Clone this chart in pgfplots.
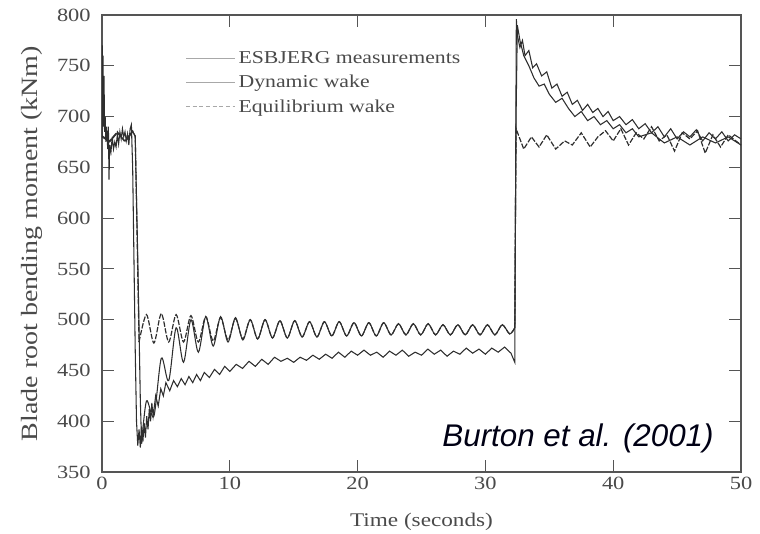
\documentclass[border=0pt]{standalone}
\usepackage{pgfplots}
\pgfplotsset{compat=1.18}
\usepackage{fontspec}
\setmainfont{Liberation Serif}[FakeStretch=1.2]
\newfontfamily\burtonfont{Liberation Sans}
\definecolor{txt}{HTML}{4A4A4A}
\definecolor{ln}{HTML}{2E2E2E}
\definecolor{lg}{HTML}{A8A8A8}
\definecolor{frame}{HTML}{555555}
\begin{document}
\begin{tikzpicture}
\begin{axis}[
  scale only axis, width=479.25pt, height=342.75pt,
  xmin=0, xmax=50, ymin=350, ymax=800,
  xtick={0,10,...,50}, ytick={350,400,...,800},
  tick align=inside, major tick length=9pt,
  axis line style={color=frame, line width=1pt},
  tick style={color=frame, line width=0.9pt},
  ticklabel style={color=txt, font=\fontsize{14}{16}\selectfont},
  yticklabel style={xshift=-5pt},
  /pgf/number format/assume math mode=true,
  xlabel={Time (seconds)}, ylabel={Blade root bending moment (kNm)},
  every axis x label/.style={at={(axis description cs:0.5,-0.11)}, anchor=center, font=\fontsize{14.5}{16}\selectfont, color=txt},
  every axis y label/.style={at={(axis description cs:-0.1095,0.5)}, rotate=90, anchor=center, font=\fontsize{17.5}{19}\selectfont, color=txt},
  legend style={draw=none, fill=none, at={(axis cs:6.2,770)}, anchor=north west, font=\fontsize{13.6}{16}\selectfont, text=txt, row sep=3.5pt},
  legend cell align=left,
  legend image code/.code={\draw[#1] (0pt,0pt) -- (37pt,0pt);},
]
\addlegendimage{color=lg, line width=0.8pt}
\addlegendentry{ESBJERG measurements}
\addlegendimage{color=lg, line width=0.8pt}
\addlegendentry{Dynamic wake}
\addlegendimage{color=lg, line width=0.8pt, dash pattern=on 3pt off 2pt}
\addlegendentry{Equilibrium wake}

% ESBJERG measurements
\addplot[ln, line width=0.8pt, forget plot] coordinates {
(0,680)(0.02,770)(0.05,700)(0.08,760)(0.12,690)(0.16,740)(0.2,685)(0.25,700)(0.3,675)(0.35,690)(0.45,668)(0.5,690)(0.55,638)(0.6,672)(0.7,665)(0.8,680)(0.9,668)(1.0,675)(1.1,670)(1.2,682)(1.3,673)(1.4,685)(1.5,678)(1.6,688)(1.7,680)(1.8,685)(1.9,676)(2.0,683)(2.1,672)(2.2,688)(2.3,692)(2.35,670)
(2.4,650)(2.5,560)(2.6,470)(2.7,400)(2.8,376)(2.9,392)(3.0,374)(3.1,395)(3.2,380)(3.3,398)(3.4,384)(3.5,405)(3.6,392)(3.7,412)(3.8,400)(3.9,418)(4.0,405)(4.2,425)(4.4,415)(4.6,432)(4.8,425)(5.0,438)(5.3,430)(5.6,440)(5.9,434)(6.2,442)(6.5,436)(6.8,444)(7.1,438)(7.4,446)(7.7,440)(8.0,448)(8.4,443)(8.8,451)(9.2,446)(9.6,454)(10.0,449)(10.5,456)(11.0,452)(11.5,459)(12,454)(12.5,461)(13,456)(13.5,463)(14,459)(14.5,462)(15,458)(15.5,463)(16,460)(16.5,465)(17,461)(17.5,466)(18,462)(18.5,468)(19,463)(19.5,469)(20,465)(20.5,470)(21,465)(21.5,468)(22,463)(22.5,469)(23,465)(23.5,470)(24,464)(24.5,468)(25,465)(25.5,471)(26,466)(26.5,470)(27,464)(27.5,469)(28,466)(28.5,472)(29,467)(29.5,471)(30,466)(30.5,472)(31,468)(31.5,473)(32,467)(32.3,458)
(32.35,600)(32.42,796)(32.5,780)(32.7,768)(32.9,775)(33.1,760)(33.4,765)(33.7,748)(34,752)(34.4,740)(34.8,744)(35.2,728)(35.6,732)(36,720)(36.4,724)(36.8,712)(37.2,716)(37.6,706)(38,712)(38.4,704)(38.8,708)(39.2,700)(39.6,705)(40,696)(40.5,700)(41,692)(41.5,697)(42,688)(42.5,693)(43,684)(43.5,690)(44,680)(44.5,688)(45,678)(45.5,685)(46,680)(46.5,687)(47,676)(47.5,684)(48,678)(48.5,685)(49,676)(49.5,682)(50,678)
};

% Dynamic wake
\addplot[ln, line width=0.8pt, forget plot] coordinates {
(0,680)(0.6,675)(1.2,684)(1.8,676)(2.4,686)(2.6,680)(2.8,560)(3.0,420)(3.1,378)
};
\addplot[ln, line width=0.8pt, smooth, forget plot] coordinates {
(3.1,378)(3.48,420)(4.06,405)(4.64,462)(5.22,440)(5.80,492)(6.38,458)(6.96,500)(7.54,468)(8.12,503)(8.70,474)(9.28,503)(9.86,478)(10.44,502)(11.02,480)(11.60,500)
(12.18,481)(12.76,500)(13.34,482)(13.92,499)(14.50,482)(15.08,499)(15.66,483)(16.24,498)(16.82,483)(17.40,498)(17.98,484)(18.56,498)(19.14,484)(19.72,497)(20.30,484)(20.88,497)(21.46,484)(22.04,497)(22.62,485)(23.20,496)(23.78,485)(24.36,496)(24.94,485)(25.52,496)(26.10,485)(26.68,495)(27.26,485)(27.84,495)(28.42,485)(29.00,495)(29.58,485)(30.16,495)(30.74,485)(31.32,495)(31.90,486)(32.30,492)
};
\addplot[ln, line width=0.8pt, forget plot] coordinates {
(32.30,492)(32.4,700)(32.5,790)(32.7,775)(33.0,760)(33.4,750)(33.8,738)(34.2,730)(34.6,732)(35.0,722)(35.5,714)(36,718)(36.5,708)(37,700)(37.5,705)(38,696)(38.5,700)(39,692)(39.5,696)(40,688)(40.5,692)(41,684)(41.5,688)(42,680)(43,684)(44,674)(45,680)(46,672)(47,680)(48,674)(49,680)(50,672)
};

% Equilibrium wake
\addplot[ln, line width=0.9pt, dash pattern=on 4pt off 1.2pt, forget plot] coordinates {
(0,681)(0.6,676)(1.2,685)(1.8,675)(2.4,685)(2.6,681)(2.75,580)(2.9,478)
};
\addplot[ln, line width=0.9pt, dash pattern=on 4pt off 1.2pt, smooth, forget plot] coordinates {
(2.90,478)(3.48,505)(4.06,477)(4.64,506)(5.22,478)(5.80,505)(6.38,478)(6.96,504)(7.54,478)(8.12,503)(8.70,479)(9.28,502)(9.86,480)(10.44,501)(11.02,481)(11.60,500)(12.18,481)(12.76,500)(13.34,482)(13.92,499)(14.50,482)(15.08,499)(15.66,483)(16.24,498)(16.82,483)(17.40,498)(17.98,484)(18.56,498)(19.14,484)(19.72,497)(20.30,484)(20.88,497)(21.46,484)(22.04,497)(22.62,485)(23.20,496)(23.78,485)(24.36,496)(24.94,485)(25.52,496)(26.10,485)(26.68,495)(27.26,485)(27.84,495)(28.42,485)(29.00,495)(29.58,485)(30.16,495)(30.74,485)(31.32,495)(31.90,486)(32.30,492)
};
\addplot[ln, line width=0.9pt, dash pattern=on 4pt off 1.2pt, forget plot] coordinates {
(32.30,492)(32.35,600)(32.4,688)(33.0,668)(33.6,680)(34.2,670)(34.8,682)(35.5,668)(36.2,676)(36.8,672)(37.5,684)(38.2,670)(38.8,680)(39.4,686)(40,676)(40.6,688)(41.2,672)(41.8,684)(42.4,678)(43,690)(43.6,676)(44.2,682)(44.8,666)(45.4,684)(46,678)(46.6,686)(47.2,664)(47.8,682)(48.4,670)(49,682)(49.6,676)(50,672)
};

\node[font=\burtonfont\itshape\fontsize{23.5}{26}\selectfont, text=black!92!blue] at (axis cs:37.25,383.5) {Burton et al. (2001)};
\end{axis}
\pgfresetboundingbox
\path[use as bounding box] (-76.5pt,-45.75pt) rectangle (493.5pt,354pt);
\end{tikzpicture}
\end{document}
